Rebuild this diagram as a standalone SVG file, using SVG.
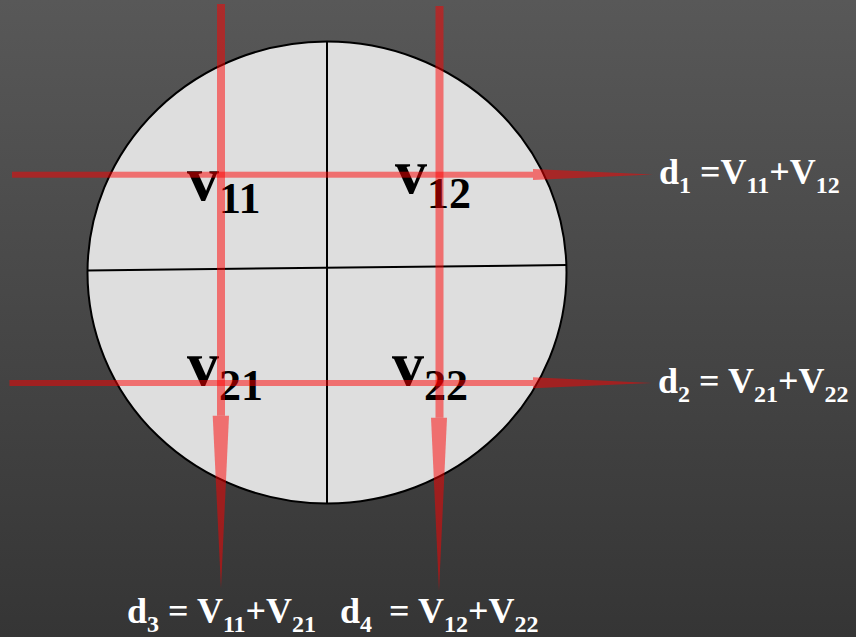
<svg xmlns="http://www.w3.org/2000/svg" width="856" height="637" viewBox="0 0 856 637">
<defs>
<linearGradient id="bg" x1="0" y1="0" x2="0" y2="1">
<stop offset="0" stop-color="#585858"/>
<stop offset="1" stop-color="#353535"/>
</linearGradient>
</defs>
<style>
.cell{font-family:"Liberation Serif","Times New Roman",serif;fill:#000;font-weight:bold}
.v{font-size:64px}
.sub{font-size:44px}
.lbl{font-family:"Liberation Serif","Times New Roman",serif;font-weight:bold;font-size:36px;fill:#fff}
.s{font-size:24px}
.arr{fill:#ff0000;fill-opacity:0.5}
.div{stroke:#000;stroke-width:2;fill:none}
</style>
<rect width="856" height="637" fill="url(#bg)"/>
<g id="disc">
<ellipse cx="327" cy="272.5" rx="239.5" ry="231" fill="#dedede" stroke="#000" stroke-width="2"/>
<line class="div" x1="327" y1="41.5" x2="327" y2="503.5"/>
<line class="div" x1="87.5" y1="270.5" x2="566.5" y2="265"/>
</g>
<g id="v11" class="cell"><text class="v" x="187" y="200">v</text><text class="sub" x="219" y="213">11</text></g>
<g id="v12" class="cell"><text class="v" x="395" y="193">v</text><text class="sub" x="427" y="208">12</text></g>
<g id="v21" class="cell"><text class="v" x="187" y="385">v</text><text class="sub" x="219" y="400">21</text></g>
<g id="v22" class="cell"><text class="v" x="392" y="385">v</text><text class="sub" x="424" y="400">22</text></g>
<g id="connectors">
<rect class="arr" x="12" y="171.7" width="521" height="6"/>
<polygon class="arr" points="533,169 533,180 653,174.5"/>
<rect class="arr" x="9.5" y="380" width="523.5" height="6"/>
<polygon class="arr" points="533,377.3 533,388.3 652,383"/>
<rect class="arr" x="217" y="4" width="8" height="411.7"/>
<polygon class="arr" points="212.7,415.7 229,415.7 221,588"/>
<rect class="arr" x="435.5" y="6" width="8" height="411.7"/>
<polygon class="arr" points="431,417.7 447,417.7 439,591"/>
</g>
<g id="d1"><text class="lbl" x="659" y="184">d<tspan class="s" dy="9">1</tspan><tspan dy="-9"> =V</tspan><tspan class="s" dy="9">11</tspan><tspan dy="-9">+V</tspan><tspan class="s" dy="9">12</tspan></text></g>
<g id="d2"><text class="lbl" x="658" y="393">d<tspan class="s" dy="9">2</tspan><tspan dy="-9"> = V</tspan><tspan class="s" dy="9">21</tspan><tspan dy="-9">+V</tspan><tspan class="s" dy="9">22</tspan></text></g>
<g id="d3"><text class="lbl" x="127" y="623">d<tspan class="s" dy="9">3</tspan><tspan dy="-9"> = V</tspan><tspan class="s" dy="9">11</tspan><tspan dy="-9">+V</tspan><tspan class="s" dy="9">21</tspan></text></g>
<g id="d4"><text class="lbl" x="340" y="623">d<tspan class="s" dy="9">4</tspan><tspan dy="-9" dx="8"> = V</tspan><tspan class="s" dy="9">12</tspan><tspan dy="-9">+V</tspan><tspan class="s" dy="9">22</tspan></text></g>
</svg>
